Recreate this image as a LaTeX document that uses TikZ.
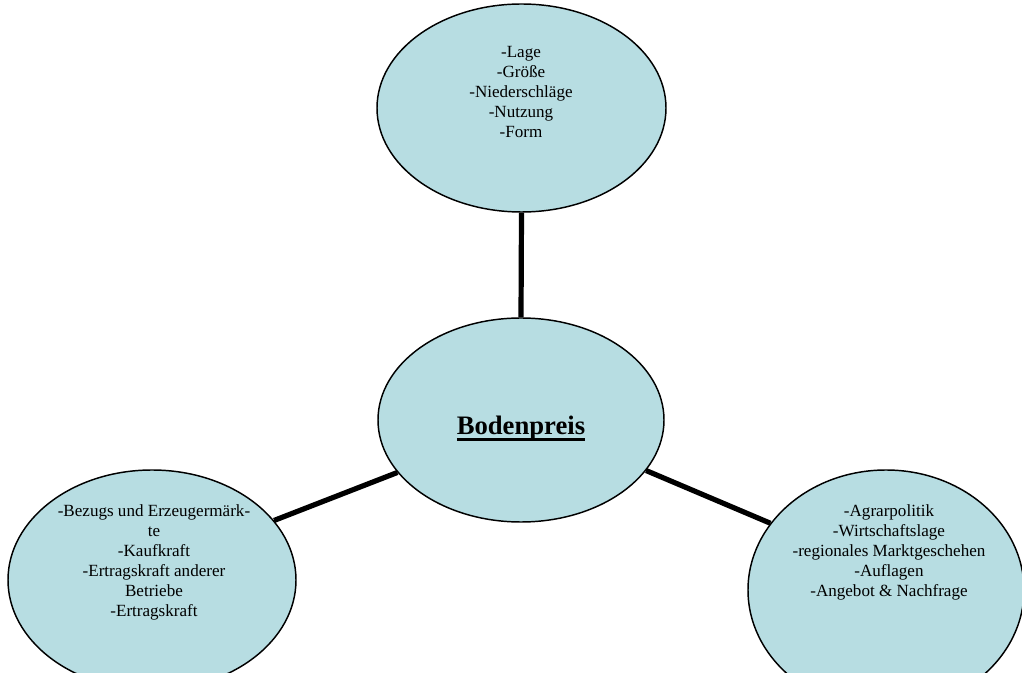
\documentclass[tikz,border=0pt]{standalone}
\usepackage{fontspec}
\setmainfont{Liberation Serif}
\usetikzlibrary{shapes.geometric}
\definecolor{bodenblau}{RGB}{183,221,226}
\newcommand{\unterstrich}[1]{\setbox0=\hbox{#1}\rlap{\vrule width \wd0 height -2.4pt depth 4.3pt}\box0}
\tikzset{
  feld/.style = {ellipse, draw = black, line width = 1.1pt, fill = bodenblau, inner sep = 0pt},
  stichwort/.style = {align = center, font = \fontsize{12.8}{15}\selectfont, inner sep = 0pt},
  verbindung/.style = {line width = 3.9pt, black}
}
\begin{document}
\begin{tikzpicture}[x = 0.75pt, y = -0.75pt]
\clip (0,0) rectangle (1022,673);
\fill[white] (0,0) rectangle (1022,673);
% Felder
\node[feld, minimum width = 216.75pt, minimum height = 156pt] (lage) at (521.5,108) {};
\node[feld, minimum width = 214.5pt, minimum height = 153pt] (preis) at (521,420) {};
\node[feld, minimum width = 216pt, minimum height = 165pt] (markt) at (152,580) {};
\node[feld, minimum width = 207pt, minimum height = 180pt] (politik) at (886,590) {};
% Verbindungen
\draw[verbindung] (lage.south) -- (preis.north);
\draw[verbindung] (preis.203) -- (markt.26);
\draw[verbindung] (preis.338) -- (politik.150);
% Texte
\node[stichwort] (lagetext) at (521,92) {-Lage\\-Größe\\-Niederschläge\\-Nutzung\\-Form};
\node[anchor = base, inner sep = 0pt, font = \fontsize{20}{24}\selectfont\bfseries] (preistext) at (521,435) {\unterstrich{Bodenpreis}};
\node[stichwort] (markttext) at (154,562) {-Bezugs und Erzeugermärk-\\te\\-Kaufkraft\\-Ertragskraft anderer\\Betriebe\\-Ertragskraft};
\node[stichwort] (politiktext) at (889,552) {-Agrarpolitik\\-Wirtschaftslage\\-regionales Marktgeschehen\\-Auflagen\\-Angebot \& Nachfrage};
\end{tikzpicture}
\end{document}
